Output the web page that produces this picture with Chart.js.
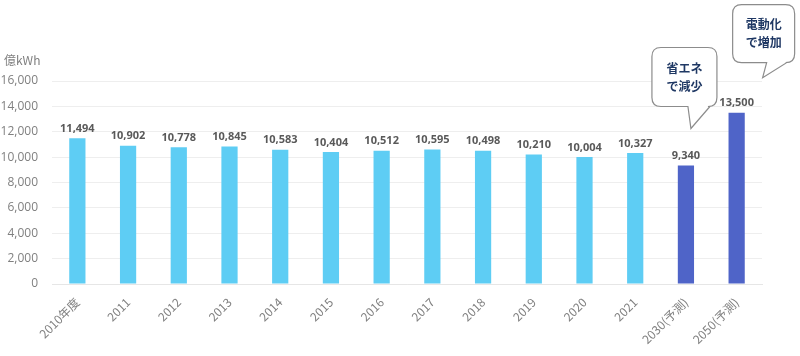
<!DOCTYPE html>
<html><head><meta charset="utf-8">
<script src="https://cdn.jsdelivr.net/npm/chart.js@4"></script>
<style>html,body{margin:0;padding:0;background:#fff}#wrap{width:800px;height:356px}</style>
</head><body><div id="wrap"><canvas id="c"></canvas></div>
<script>
const categories = ['2010年度','2011','2012','2013','2014','2015','2016','2017','2018','2019','2020','2021','2030(予測)','2050(予測)'];
const values = [11494,10902,10778,10845,10583,10404,10512,10595,10498,10210,10004,10327,9340,13500];
const barColors = ['#5ECDF4','#5ECDF4','#5ECDF4','#5ECDF4','#5ECDF4','#5ECDF4','#5ECDF4','#5ECDF4','#5ECDF4','#5ECDF4','#5ECDF4','#5ECDF4','#4F64C8','#4F64C8'];
const yTicks = [0,2000,4000,6000,8000,10000,12000,14000,16000];
const unitLabel = '億kWh';
const callouts = [
  {index:12, lines:['省エネ','で減少']},
  {index:13, lines:['電動化','で増加']}
];
const FONT = "'Open Sans','Noto Sans CJK JP',sans-serif";
const JFONT = "'Noto Sans CJK JP','Open Sans',sans-serif";

const labelPlugin = {
  id:'labels',
  afterDatasetsDraw(chart){
    const ctx = chart.ctx;
    const meta = chart.getDatasetMeta(0);
    ctx.save();
    ctx.font = "bold 11px " + FONT;
    ctx.fillStyle = '#595959';
    ctx.textAlign = 'center';
    ctx.textBaseline = 'bottom';
    meta.data.forEach((bar,i)=>{
      ctx.fillText(values[i].toLocaleString('en-US'), bar.x, bar.y - 4);
    });
    const ys = chart.scales.y;
    ctx.font = "12px " + JFONT;
    ctx.fillStyle = '#808080';
    ctx.textAlign = 'left';
    ctx.textBaseline = 'middle';
    ctx.fillText(unitLabel, 4, ys.top - 21);
    const xs = chart.scales.x;
    // offsets relative to bar centre (x) and bar top (y)
    const specs = [
      {l:-34, t:-118, w:65, h:59, b1:2, b2:24, tx:5, ty:-37},
      {l:-4, t:-108, w:62, h:58, b1:30, b2:50, tx:26, ty:-35}
    ];
    callouts.forEach((c,k)=>{
      const s = specs[k];
      const x0 = xs.getPixelForValue(c.index);
      const y0 = ys.getPixelForValue(values[c.index]);
      const left = x0 + s.l, top = y0 + s.t, w = s.w, h = s.h, r = 9;
      const tipX = x0 + s.tx, tipY = y0 + s.ty;
      ctx.beginPath();
      ctx.moveTo(left + r, top);
      ctx.lineTo(left + w - r, top);
      ctx.quadraticCurveTo(left + w, top, left + w, top + r);
      ctx.lineTo(left + w, top + h - r);
      ctx.quadraticCurveTo(left + w, top + h, left + w - r, top + h);
      ctx.lineTo(x0 + s.b2, top + h);
      ctx.lineTo(tipX, tipY);
      ctx.lineTo(x0 + s.b1, top + h);
      ctx.lineTo(left + r, top + h);
      ctx.quadraticCurveTo(left, top + h, left, top + h - r);
      ctx.lineTo(left, top + r);
      ctx.quadraticCurveTo(left, top, left + r, top);
      ctx.closePath();
      ctx.fillStyle = '#fff';
      ctx.fill();
      ctx.strokeStyle = '#8c8c8c';
      ctx.lineWidth = 1.2;
      ctx.stroke();
      ctx.fillStyle = '#1F3864';
      ctx.font = "bold 12px " + JFONT;
      ctx.textAlign = 'center';
      ctx.textBaseline = 'middle';
      ctx.fillText(c.lines[0], left + w/2, top + h/2 - 9);
      ctx.fillText(c.lines[1], left + w/2, top + h/2 + 9);
    });
    ctx.restore();
  }
};

new Chart(document.getElementById('c'), {
  type:'bar',
  data:{labels:categories, datasets:[{data:values, backgroundColor:barColors, barPercentage:0.32, categoryPercentage:1}]},
  options:{
    responsive:true, maintainAspectRatio:false, animation:false,
    layout:{padding:{top:81,right:38,left:0,bottom:0}},
    plugins:{legend:{display:false}, tooltip:{enabled:false}},
    scales:{
      x:{grid:{display:false}, border:{color:'#e6e6e6', width:1},
         afterFit(ax){ax.height = 72;},
         ticks:{color:'#808080', font:{family:JFONT, size:12}, maxRotation:45, minRotation:45, padding:3, autoSkip:false}},
      y:{min:0, max:16000, afterBuildTicks(ax){ax.ticks = yTicks.map(v=>({value:v}));},
         afterFit(ax){ax.width = 52;},
         grid:{color:'#eeeeee', drawTicks:false}, border:{display:false},
         ticks:{color:'#808080', font:{family:FONT, size:12}, padding:14, callback:v=>v.toLocaleString('en-US')}}
    }
  },
  plugins:[labelPlugin]
});
</script></body></html>
